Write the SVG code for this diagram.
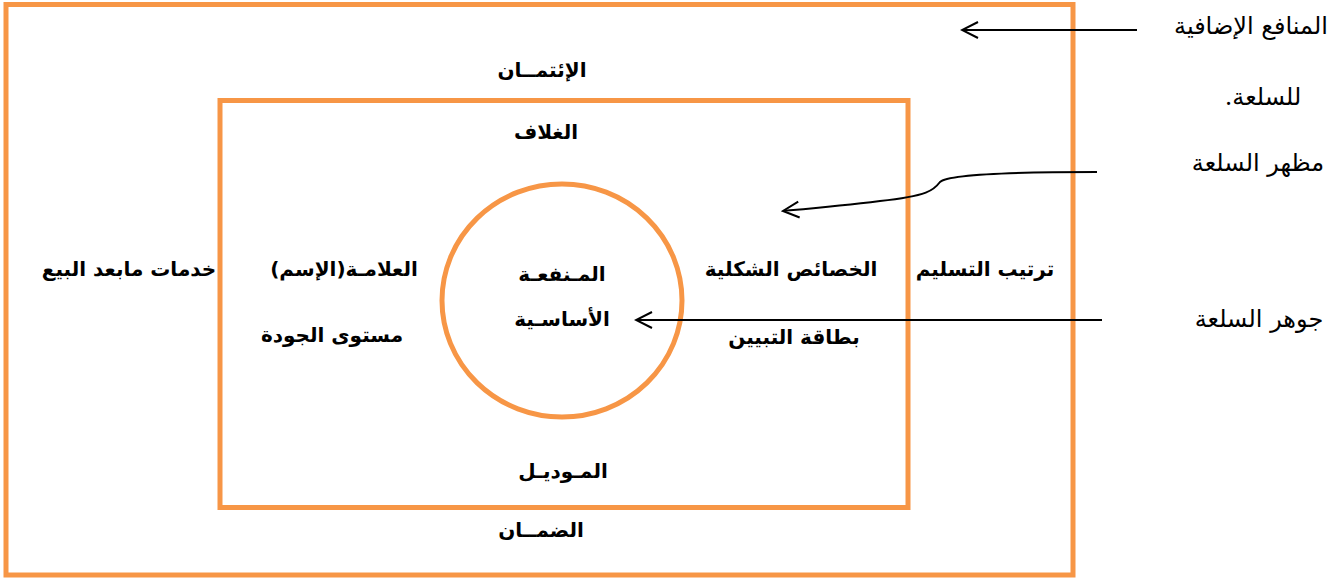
<svg xmlns="http://www.w3.org/2000/svg" width="1338" height="581" viewBox="0 0 1338 581">
<style>
.box{fill:none;stroke:#F79646;stroke-width:5}
.lbl{font-family:"DejaVu Sans","Liberation Sans",sans-serif;font-weight:bold;font-size:20px;fill:#000;text-anchor:middle;direction:rtl}
.side{font-family:"DejaVu Serif","DejaVu Sans",serif;font-size:24px;fill:#000;text-anchor:middle;direction:rtl}
.con{fill:none;stroke:#000;stroke-width:2;marker-end:url(#arr)}
</style>
<defs>
<marker id="arr" viewBox="-20 -10 22 20" markerWidth="22" markerHeight="20" refX="0" refY="0" orient="auto" markerUnits="userSpaceOnUse">
<path d="M-16,-8 L0,0 L-16,8" fill="none" stroke="#000" stroke-width="2"/>
</marker>
</defs>
<rect width="1338" height="581" fill="#fff"/>
<g id="outer">
<rect class="box" x="6" y="4.5" width="1067" height="570.5"/>
<text class="lbl" x="542" y="77">الإئتمــان</text>
<text class="lbl" x="129" y="276">خدمات مابعد البيع</text>
<text class="lbl" x="985" y="276">ترتيب التسليم</text>
<text class="lbl" x="541" y="537">الضمــان</text>
</g>
<g id="inner">
<rect class="box" x="220" y="100.5" width="688" height="407"/>
<text class="lbl" x="546" y="139">الغلاف</text>
<text class="lbl" x="344" y="276">العلامـة(الإسم)</text>
<text class="lbl" x="332" y="342">مستوى الجودة</text>
<text class="lbl" x="791" y="276">الخصائص الشكلية</text>
<text class="lbl" x="794" y="344">بطاقة التبيين</text>
<text class="lbl" x="563" y="478">المـوديـل</text>
</g>
<g id="core">
<ellipse class="box" cx="562" cy="300.5" rx="120" ry="116.5"/>
<text class="lbl" x="562" y="281">المـنفعـة</text>
<text class="lbl" x="562" y="326">الأساسـية</text>
</g>
<g id="side-labels">
<text class="side" x="1251" y="34">المنافع الإضافية</text>
<text class="side" x="1263" y="105">للسلعة.</text>
<text class="side" x="1258" y="171">مظهر السلعة</text>
<text class="side" x="1259" y="327">جوهر السلعة</text>
</g>
<g id="connectors">
<path class="con" d="M1137,30 L962,30"/>
<path class="con" d="M1097,172 C1020,172 948,174 940,182 C934,190 928,196 880,201 C840,206 805,209 783,211"/>
<path class="con" d="M1102,320 L636,320"/>
</g>
</svg>
